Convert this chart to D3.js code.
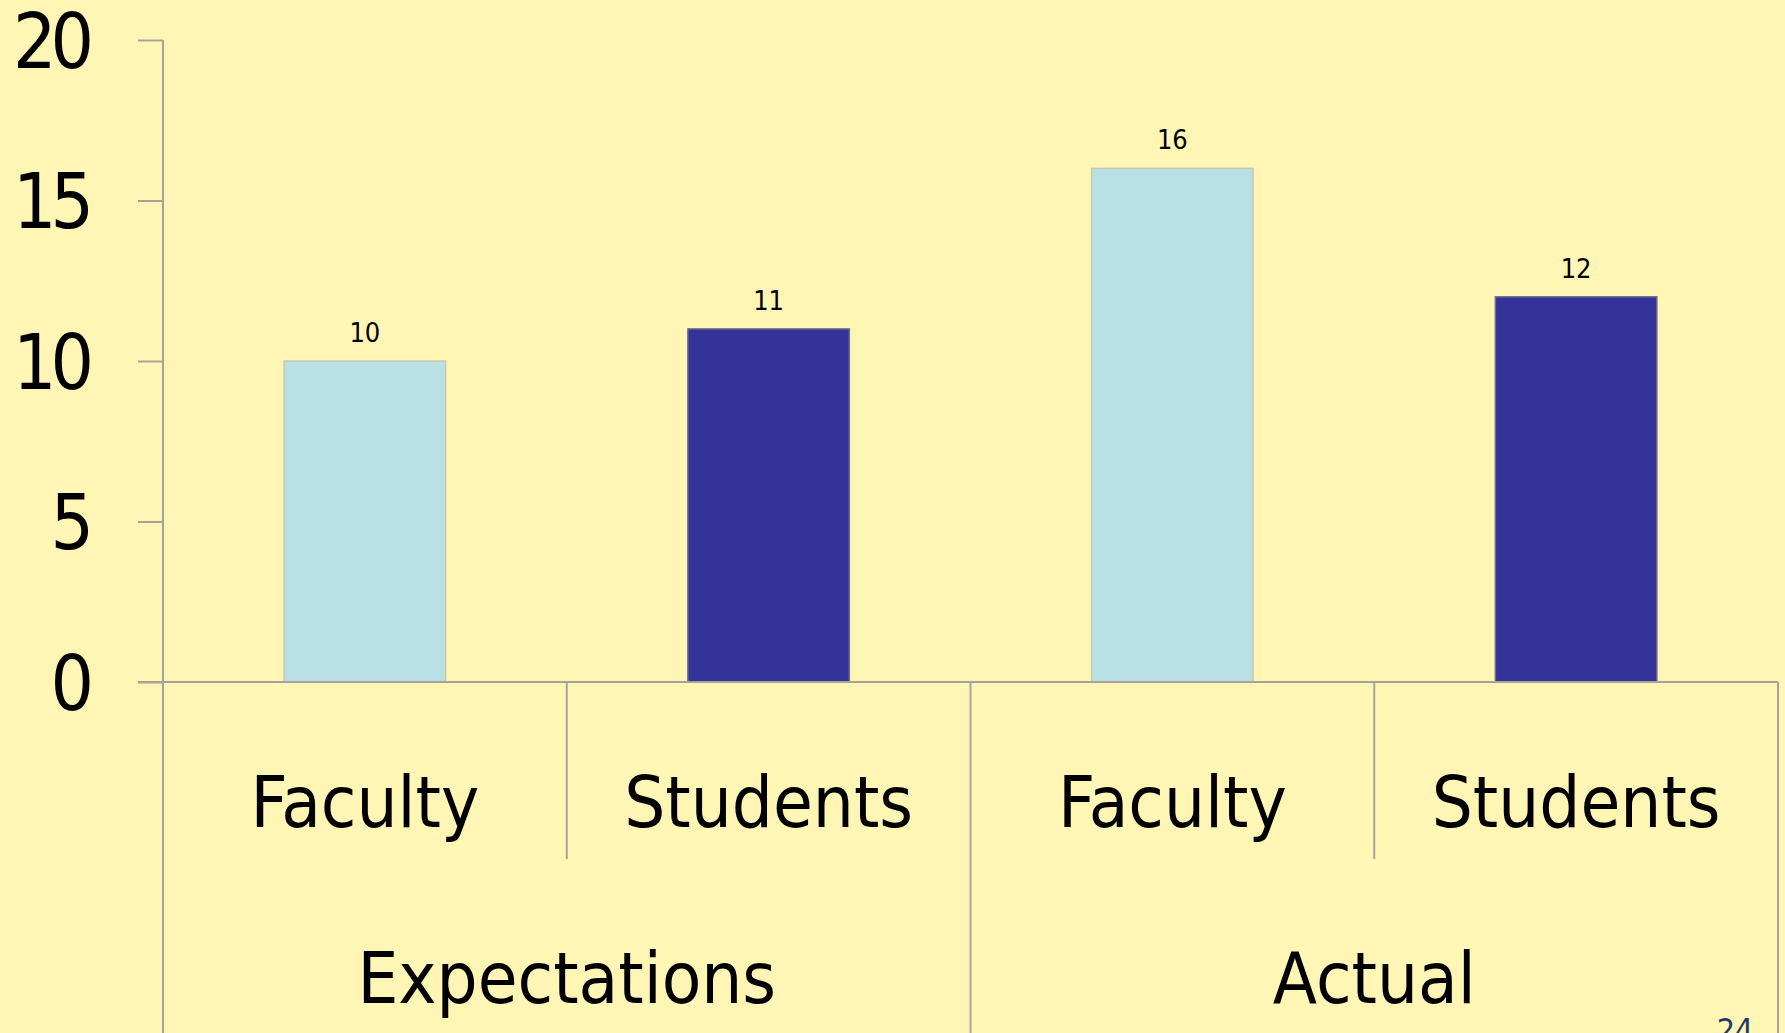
<!DOCTYPE html>
<html><head><meta charset="utf-8">
<script src="https://cdn.jsdelivr.net/npm/d3@7"></script>
<style>
html,body{margin:0;padding:0;background:#FFF5B5;overflow:hidden}
svg{display:block}
text{font-family:"DejaVu Sans Condensed","DejaVu Sans",sans-serif;font-stretch:condensed}
</style></head><body>
<svg id="c" width="1785" height="1033"></svg>
<script>
const categories = ["Faculty","Students","Faculty","Students"];
const groups = ["Expectations","Actual"];
const values = [10, 11, 16, 12];
const seriesColors = ["#B9E0E5","#333399","#B9E0E5","#333399"];
const yTicks = [0,5,10,15,20];
const pageNumber = "24";

const W=1785,H=1033;
const svg=d3.select("#c");
svg.append("rect").attr("width",W).attr("height",H).attr("fill","#FFF5B5");
const x0=163,x1=1778,yTop=40,yZero=682;
const axisColor="#A6A49A";
const y=d3.scaleLinear().domain([0,20]).range([yZero,yTop]);
const x=d3.scaleBand().domain(d3.range(categories.length)).range([x0,x1]);
const xg=d3.scaleBand().domain(groups).range([x0,x1]);
const barW=x.bandwidth()*0.4;

// y axis
const yAxis=d3.axisLeft(y).tickValues(yTicks).tickSize(25).tickPadding(49).tickSizeOuter(0);
const ga=svg.append("g").attr("transform",`translate(${x0},0)`).call(yAxis);
ga.select(".domain").remove();
ga.selectAll(".tick line").attr("stroke",axisColor).attr("stroke-width",2);
ga.selectAll(".tick text").attr("font-size",76).attr("fill","#000").attr("dy","0.36em")
  .attr("letter-spacing",-6).attr("dx",-1)
  .style("font-family",'"DejaVu Sans Condensed","DejaVu Sans",sans-serif');
svg.append("line").attr("x1",x0).attr("x2",x0).attr("y1",yTop).attr("y2",H)
  .attr("stroke",axisColor).attr("stroke-width",2);

// bars
svg.selectAll("rect.bar").data(values).join("rect").attr("class","bar")
  .attr("x",(d,i)=>x(i)+x.bandwidth()/2-barW/2)
  .attr("y",d=>y(d)).attr("width",barW).attr("height",d=>y(0)-y(d))
  .attr("fill",(d,i)=>seriesColors[i])
  .attr("stroke",(d,i)=>i%2?"#6E6E8A":"#C7C9A8").attr("stroke-width",1.5);

svg.selectAll("text.val").data(values).join("text").attr("class","val")
  .attr("x",(d,i)=>x(i)+x.bandwidth()/2).attr("y",d=>y(d)-19)
  .attr("text-anchor","middle").attr("font-size",27).attr("fill","#000").text(d=>d);

// x axis baseline
svg.append("line").attr("x1",138).attr("x2",x1).attr("y1",yZero).attr("y2",yZero)
  .attr("stroke",axisColor).attr("stroke-width",2);
// category dividers
categories.forEach((c,i)=>{
  const xb=x(i)+x.bandwidth();
  const outer=(i%2===1);
  svg.append("line").attr("x1",xb).attr("x2",xb).attr("y1",yZero).attr("y2",outer?H:859)
    .attr("stroke",axisColor).attr("stroke-width",2);
});
svg.selectAll("text.cat").data(categories).join("text").attr("class","cat")
  .attr("x",(d,i)=>x(i)+x.bandwidth()/2).attr("y",827)
  .attr("text-anchor","middle").attr("font-size",72).attr("fill","#000").text(d=>d);
svg.selectAll("text.grp").data(groups).join("text").attr("class","grp")
  .attr("x",d=>xg(d)+xg.bandwidth()/2).attr("y",1003)
  .attr("text-anchor","middle").attr("font-size",72).attr("fill","#000").text(d=>d);

svg.append("text").attr("x",1735).attr("y",1041).attr("text-anchor","middle")
  .attr("font-size",32).attr("fill","#1F3A68").text(pageNumber);
</script></body></html>
